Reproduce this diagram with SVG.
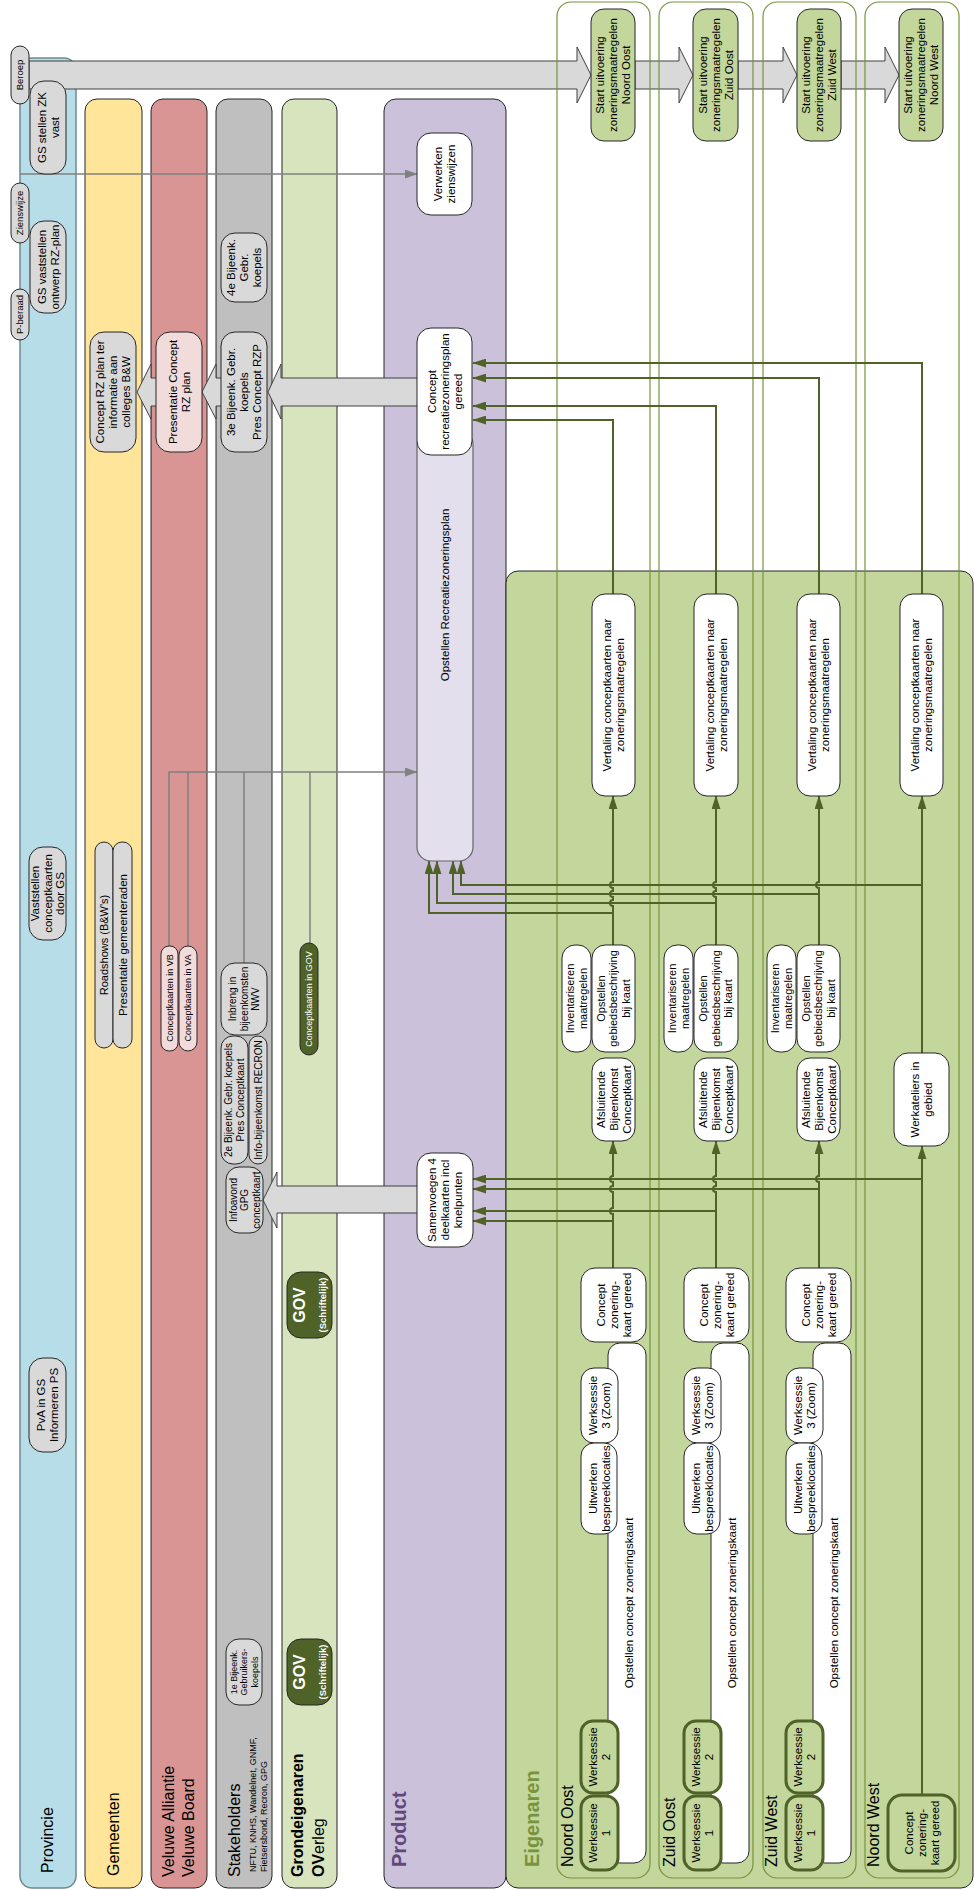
<svg xmlns="http://www.w3.org/2000/svg" width="974" height="1890" viewBox="0 0 974 1890">
<defs>
<style>
text{font-family:"Liberation Sans",Arial,sans-serif;fill:#000}
.t{font-size:11.5px;text-anchor:middle}
.t11{font-size:11px;text-anchor:middle}
.s{font-size:10px;text-anchor:middle}
.xs{font-size:9px;text-anchor:middle}
.p9{font-size:9.5px;text-anchor:middle}
.lab{font-size:16px}
.lane{stroke:#262626;stroke-width:1}
.reg{fill:none;stroke:#77933c;stroke-width:1.2}
.n{stroke:#262626;stroke-width:1}
.gr{fill:#d9d9d9}
.wh{fill:#fff}
.pk{fill:#f2dcdb}
.dk{fill:#4f6228}
.lg{fill:#c3d69b}
.tk{fill:#c3d69b;stroke:#4f6228;stroke-width:3}
.ba{fill:#d9d9d9;stroke:#404040;stroke-width:1}
.cg{fill:none;stroke:#808080;stroke-width:1.5}
.cn{fill:none;stroke:#4f6228;stroke-width:2}
.wt{fill:#fff}
</style>
<marker id="mg" viewBox="0 0 10 10" refX="9.5" refY="5" markerWidth="14" markerHeight="9" markerUnits="userSpaceOnUse" orient="auto" preserveAspectRatio="none"><path d="M0,0 L10,5 L0,10 z" fill="#4f6228"/></marker>
<marker id="my" viewBox="0 0 10 10" refX="9.5" refY="5" markerWidth="13" markerHeight="9" markerUnits="userSpaceOnUse" orient="auto" preserveAspectRatio="none"><path d="M0,0 L10,5 L0,10 z" fill="#808080"/></marker>
</defs>
<rect width="974" height="1890" fill="#fff"/>

<!-- lanes -->
<g id="lane-provincie"><rect x="20" y="58" width="56" height="1830" rx="12" fill="#b7dde8" style="stroke:#6f8a92;stroke-width:1.5"/></g>
<g id="lane-gemeenten"><rect class="lane" x="85" y="99" width="57" height="1789" rx="12" fill="#ffe599"/></g>
<g id="lane-veluwe"><rect class="lane" x="151" y="99" width="56" height="1789" rx="12" fill="#d99594"/></g>
<g id="lane-stakeholders"><rect class="lane" x="216" y="99" width="56" height="1789" rx="12" fill="#bfbfbf"/></g>
<g id="lane-grondeigenaren"><rect class="lane" x="282" y="99" width="55" height="1789" rx="12" fill="#d7e4bd"/></g>
<g id="lane-product"><rect class="lane" x="384" y="99" width="122" height="1789" rx="12" fill="#ccc1da"/></g>
<g id="lane-eigenaren"><rect class="lane" x="506" y="571" width="467" height="1317" rx="12" fill="#c3d69b"/></g>

<!-- block arrows -->
<g id="block-arrows">
<polygon class="ba" points="29,61 577,61 577,47 591,75 577,103 577,89 29,89"/>
<polygon class="ba" points="635,61 679,61 679,47 693,75 679,103 679,89 635,89"/>
<polygon class="ba" points="738,61 783,61 783,47 797,75 783,103 783,89 738,89"/>
<polygon class="ba" points="841,61 885,61 885,47 899,75 885,103 885,89 841,89"/>
<polygon class="ba" points="420,378 281,378 281,364 268,392 281,419 281,406 420,406"/>
<polygon class="ba" points="230,378 216,378 216,364 202,392 216,419 216,406 230,406"/>
<polygon class="ba" points="165,378 151,378 151,364 137,392 151,419 151,406 165,406"/>
<polygon class="ba" points="420,1186 277,1186 277,1172 263,1200 277,1228 277,1213 420,1213"/>
</g>

<!-- region outlines -->
<g id="regions">
<rect class="reg" x="557" y="2" width="93" height="1876" rx="14"/>
<rect class="reg" x="659" y="2" width="94" height="1876" rx="14"/>
<rect class="reg" x="763" y="2" width="93" height="1876" rx="14"/>
<rect class="reg" x="865" y="2" width="94" height="1876" rx="14"/>
</g>

<!-- connectors -->
<g id="connectors">
<path class="cg" d="M20,174 H417" marker-end="url(#my)"/>
<path class="cg" d="M169,946 V772 H417" marker-end="url(#my)"/>
<path class="cg" d="M188,946 V772"/>
<path class="cg" d="M244,963 V772"/>
<path class="cg" d="M310,943 V772"/>

<path class="cn" d="M613,594 V420 H473" marker-end="url(#mg)"/>
<path class="cn" d="M716,594 V406 H473" marker-end="url(#mg)"/>
<path class="cn" d="M819,594 V378 H473" marker-end="url(#mg)"/>
<path class="cn" d="M922,594 V363 H473" marker-end="url(#mg)"/>

<path class="cn" d="M613,945 V906 A3,3 0 0 1 613,900 V897 A3,3 0 0 1 613,891 V888 A3,3 0 0 1 613,882 V796" marker-end="url(#mg)"/>
<path class="cn" d="M716,945 V897 A3,3 0 0 1 716,891 V888 A3,3 0 0 1 716,882 V796" marker-end="url(#mg)"/>
<path class="cn" d="M819,945 V888 A3,3 0 0 1 819,882 V796" marker-end="url(#mg)"/>
<path class="cn" d="M922,1053 V796" marker-end="url(#mg)"/>
<path class="cn" d="M613,913 H429 V861" marker-end="url(#mg)"/>
<path class="cn" d="M716,903 H437 V861" marker-end="url(#mg)"/>
<path class="cn" d="M819,894 H453 V861" marker-end="url(#mg)"/>
<path class="cn" d="M922,885 H461 V861" marker-end="url(#mg)"/>

<path class="cn" d="M613,1268 V1214 A3,3 0 0 1 613,1208 V1192 A3,3 0 0 1 613,1186 V1182 A3,3 0 0 1 613,1176 V1141" marker-end="url(#mg)"/>
<path class="cn" d="M716,1268 V1192 A3,3 0 0 1 716,1186 V1182 A3,3 0 0 1 716,1176 V1141" marker-end="url(#mg)"/>
<path class="cn" d="M819,1268 V1182 A3,3 0 0 1 819,1176 V1141" marker-end="url(#mg)"/>
<path class="cn" d="M922,1795 V1146" marker-end="url(#mg)"/>
<path class="cn" d="M613,1221 H473" marker-end="url(#mg)"/>
<path class="cn" d="M716,1211 H473" marker-end="url(#mg)"/>
<path class="cn" d="M819,1189 H473" marker-end="url(#mg)"/>
<path class="cn" d="M922,1179 H473" marker-end="url(#mg)"/>
</g>

<!-- Provincie nodes -->
<g id="n-beroep"><rect class="n gr" x="11" y="46" width="18" height="58" rx="9"/><text class="p9" transform="translate(20,75) rotate(-90)" y="3.3">Beroep</text></g>
<g id="n-gs-zk"><rect class="n gr" x="30" y="81" width="36" height="93" rx="14"/><text class="t" transform="translate(48,127.5) rotate(-90)"><tspan x="0" y="-2.5">GS stellen ZK</tspan><tspan x="0" y="10.5">vast</tspan></text></g>
<g id="n-zienswijze"><rect class="n gr" x="11" y="183" width="18" height="60" rx="9"/><text class="p9" transform="translate(20,213) rotate(-90)" y="3.3">Zienswijze</text></g>
<g id="n-gs-ontwerp"><rect class="n gr" x="30" y="221" width="36" height="92" rx="14"/><text class="t" transform="translate(48,267) rotate(-90)"><tspan x="0" y="-2.5">GS vaststellen</tspan><tspan x="0" y="10.5">ontwerp RZ-plan</tspan></text></g>
<g id="n-pberaad"><rect class="n gr" x="11" y="289" width="18" height="51" rx="9"/><text class="p9" transform="translate(20,314.5) rotate(-90)" y="3.3">P-beraad</text></g>
<g id="n-vaststellen"><rect class="n gr" x="29" y="847" width="37" height="93" rx="14"/><text class="t" transform="translate(47.5,893.5) rotate(-90)"><tspan x="0" y="-8.5">Vaststellen</tspan><tspan x="0" y="4">conceptkaarten</tspan><tspan x="0" y="16.5">door GS</tspan></text></g>
<g id="n-pva"><rect class="n gr" x="29" y="1358" width="37" height="94" rx="14"/><text class="t" transform="translate(47.5,1405) rotate(-90)"><tspan x="0" y="-2.5">PvA in GS</tspan><tspan x="0" y="10.5">Informeren PS</tspan></text></g>

<!-- Gemeenten nodes -->
<g id="n-concept-rz-info"><rect class="n gr" x="90" y="332" width="46" height="120" rx="14"/><text class="t" transform="translate(113,392) rotate(-90)"><tspan x="0" y="-9">Concept RZ plan ter</tspan><tspan x="0" y="4">informatie aan</tspan><tspan x="0" y="17">colleges B&amp;W</tspan></text></g>
<g id="n-roadshows"><rect class="n gr" x="95" y="842" width="18" height="206" rx="9"/><text class="t11" transform="translate(104,945) rotate(-90)" y="3.8">Roadshows (B&amp;W's)</text></g>
<g id="n-pres-gemeenteraden"><rect class="n gr" x="113" y="842" width="19" height="206" rx="9"/><text class="t" transform="translate(122.5,945) rotate(-90)" y="4">Presentatie gemeenteraden</text></g>

<!-- Veluwe nodes -->
<g id="n-pres-concept-rz"><rect class="n pk" x="156" y="332" width="46" height="120" rx="14"/><text class="t" transform="translate(179,392) rotate(-90)"><tspan x="0" y="-2.5">Presentatie Concept</tspan><tspan x="0" y="10.5">RZ plan</tspan></text></g>
<g id="n-ck-vb"><rect class="n pk" x="161" y="946" width="17" height="105" rx="8"/><text class="xs" transform="translate(169.5,998) rotate(-90)" y="3.2">Conceptkaarten in VB</text></g>
<g id="n-ck-va"><rect class="n pk" x="179" y="946" width="18" height="105" rx="9"/><text class="xs" transform="translate(188,998) rotate(-90)" y="3.2">Conceptkaarten in VA</text></g>

<!-- Stakeholders nodes -->
<g id="n-4e"><rect class="n gr" x="221" y="233" width="46" height="69" rx="14"/><text class="t" transform="translate(244,267.5) rotate(-90)"><tspan x="0" y="-9">4e Bijeenk.</tspan><tspan x="0" y="4">Gebr.</tspan><tspan x="0" y="17">koepels</tspan></text></g>
<g id="n-3e"><rect class="n gr" x="221" y="332" width="46" height="120" rx="14"/><text class="t" transform="translate(244,392) rotate(-90)"><tspan x="0" y="-9">3e Bijeenk. Gebr.</tspan><tspan x="0" y="4">koepels</tspan><tspan x="0" y="17">Pres Concept RZP</tspan></text></g>
<g id="n-inbreng"><rect class="n gr" x="221" y="963" width="46" height="72" rx="14"/><text class="s" transform="translate(244,999) rotate(-90)"><tspan x="0" y="-8">Inbreng in</tspan><tspan x="0" y="3.5">bijeenkomsten</tspan><tspan x="0" y="15">NWV</tspan></text></g>
<g id="n-2e"><rect class="n gr" x="221" y="1036" width="27" height="128" rx="12"/><text class="s" transform="translate(234.5,1100) rotate(-90)"><tspan x="0" y="-2.3">2e Bijeenk. Gebr. koepels</tspan><tspan x="0" y="9.2">Pres Conceptkaart</tspan></text></g>
<g id="n-recron"><rect class="n gr" x="249" y="1036" width="18" height="128" rx="9"/><text class="s" transform="translate(258,1100) rotate(-90)" y="3.5">Info-bijeenkomst RECRON</text></g>
<g id="n-infoavond"><rect class="n gr" x="226" y="1167" width="37" height="66" rx="13"/><text class="s" transform="translate(244.5,1200) rotate(-90)"><tspan x="0" y="-8">Infoavond</tspan><tspan x="0" y="3.5">GPG</tspan><tspan x="0" y="15">conceptkaart</tspan></text></g>
<g id="n-1e"><rect class="n gr" x="226" y="1639" width="36" height="66" rx="13"/><text class="xs" transform="translate(244,1672) rotate(-90)"><tspan x="0" y="-7.3">1e Bijeenk.</tspan><tspan x="0" y="3.2">Gebruikers-</tspan><tspan x="0" y="13.7">koepels</tspan></text></g>

<!-- Grondeigenaren nodes -->
<g id="n-ck-gov"><rect class="n dk" x="300" y="943" width="18" height="112" rx="9"/><text class="xs wt" transform="translate(309,999) rotate(-90)" y="3.2">Conceptkaarten in GOV</text></g>
<g id="n-gov-2"><rect class="n dk" x="287" y="1272" width="45" height="66" rx="14"/><text class="wt" text-anchor="middle" font-size="16" font-weight="bold" transform="translate(305,1305) rotate(-90)">GOV</text><text class="wt" text-anchor="middle" font-size="9.5" font-weight="bold" transform="translate(326,1305) rotate(-90)">(Schriftelijk)</text></g>
<g id="n-gov-1"><rect class="n dk" x="287" y="1639" width="45" height="66" rx="14"/><text class="wt" text-anchor="middle" font-size="16" font-weight="bold" transform="translate(305,1672) rotate(-90)">GOV</text><text class="wt" text-anchor="middle" font-size="9.5" font-weight="bold" transform="translate(326,1672) rotate(-90)">(Schriftelijk)</text></g>

<!-- Product nodes -->
<g id="n-opstellen-rzp"><rect x="417" y="430" width="56" height="431" rx="14" fill="#e4dfec" stroke="#666" stroke-width="1.2"/><text class="t" transform="translate(445,595) rotate(-90)" y="4">Opstellen Recreatiezoneringsplan</text></g>
<g id="n-verwerken"><rect class="n wh" x="417" y="133" width="55" height="82" rx="14"/><text class="t" transform="translate(444.5,174) rotate(-90)"><tspan x="0" y="-2.5">Verwerken</tspan><tspan x="0" y="10.5">zienswijzen</tspan></text></g>
<g id="n-concept-rzp-gereed"><rect class="n wh" x="417" y="328" width="55" height="127" rx="14"/><text class="t" transform="translate(444.5,391.5) rotate(-90)"><tspan x="0" y="-9">Concept</tspan><tspan x="0" y="4">recreatiezoneringsplan</tspan><tspan x="0" y="17">gereed</tspan></text></g>
<g id="n-samenvoegen"><rect class="n wh" x="417" y="1153" width="56" height="94" rx="14"/><text class="t" transform="translate(445,1200) rotate(-90)"><tspan x="0" y="-9">Samenvoegen 4</tspan><tspan x="0" y="4">deelkaarten incl</tspan><tspan x="0" y="17">knelpunten</tspan></text></g>

<!-- Noord Oost -->
<g id="noord-oost">
<rect class="n lg" x="591" y="9" width="44" height="132" rx="13"/><text class="t" transform="translate(613,75) rotate(-90)"><tspan x="0" y="-9">Start uitvoering</tspan><tspan x="0" y="4">zoneringsmaatregelen</tspan><tspan x="0" y="17">Noord Oost</tspan></text>
<rect class="n wh" x="592" y="594" width="43" height="202" rx="13"/><text class="t" transform="translate(613.5,695) rotate(-90)"><tspan x="0" y="-2.5">Vertaling conceptkaarten naar</tspan><tspan x="0" y="10.5">zoneringsmaatregelen</tspan></text>
<rect class="n wh" x="562" y="945" width="29" height="107" rx="13"/><text class="t11" transform="translate(576.5,998.5) rotate(-90)"><tspan x="0" y="-2.4">Inventariseren</tspan><tspan x="0" y="10.1">maatregelen</tspan></text>
<rect class="n wh" x="592" y="945" width="43" height="107" rx="13"/><text class="t11" transform="translate(613.5,998.5) rotate(-90)"><tspan x="0" y="-8.7">Opstellen</tspan><tspan x="0" y="3.8">gebiedsbeschrijving</tspan><tspan x="0" y="16.3">bij kaart</tspan></text>
<rect class="n wh" x="592" y="1058" width="43" height="83" rx="13"/><text class="t" transform="translate(613.5,1099.5) rotate(-90)"><tspan x="0" y="-9">Afsluitende</tspan><tspan x="0" y="4">Bijeenkomst</tspan><tspan x="0" y="17">Conceptkaart</tspan></text>
<rect class="n wh" x="581" y="1268" width="65" height="74" rx="14"/><text class="t" transform="translate(613.5,1305) rotate(-90)"><tspan x="0" y="-9">Concept</tspan><tspan x="0" y="4">zonering-</tspan><tspan x="0" y="17">kaart gereed</tspan></text>
<rect class="n wh" x="608" y="1343" width="38" height="520" rx="12"/><text class="t" transform="translate(629,1603) rotate(-90)" y="4">Opstellen concept zoneringskaart</text>
<rect class="n wh" x="581" y="1368" width="37" height="75" rx="13"/><text class="t" transform="translate(599.5,1405.5) rotate(-90)"><tspan x="0" y="-2.5">Werksessie</tspan><tspan x="0" y="10.5">3 (Zoom)</tspan></text>
<rect class="n wh" x="581" y="1443" width="36" height="91" rx="13"/><text class="t" transform="translate(599,1488.5) rotate(-90)"><tspan x="0" y="-2.5">Uitwerken</tspan><tspan x="0" y="10.5">bespreeklocaties</tspan></text>
<rect class="tk" x="581" y="1721" width="37" height="72" rx="12"/><text class="t" transform="translate(599.5,1757) rotate(-90)"><tspan x="0" y="-2.5">Werksessie</tspan><tspan x="0" y="10.5">2</tspan></text>
<rect class="tk" x="581" y="1796" width="37" height="74" rx="12"/><text class="t" transform="translate(599.5,1833) rotate(-90)"><tspan x="0" y="-2.5">Werksessie</tspan><tspan x="0" y="10.5">1</tspan></text>
</g>

<!-- Zuid Oost -->
<g id="zuid-oost" transform="translate(103,0)">
<rect class="n lg" x="590" y="9" width="45" height="132" rx="13"/><text class="t" transform="translate(612.5,75) rotate(-90)"><tspan x="0" y="-9">Start uitvoering</tspan><tspan x="0" y="4">zoneringsmaatregelen</tspan><tspan x="0" y="17">Zuid Oost</tspan></text>
<rect class="n wh" x="591" y="594" width="44" height="202" rx="13"/><text class="t" transform="translate(613,695) rotate(-90)"><tspan x="0" y="-2.5">Vertaling conceptkaarten naar</tspan><tspan x="0" y="10.5">zoneringsmaatregelen</tspan></text>
<rect class="n wh" x="561" y="945" width="29" height="107" rx="13"/><text class="t11" transform="translate(575.5,998.5) rotate(-90)"><tspan x="0" y="-2.4">Inventariseren</tspan><tspan x="0" y="10.1">maatregelen</tspan></text>
<rect class="n wh" x="591" y="945" width="44" height="107" rx="13"/><text class="t11" transform="translate(613,998.5) rotate(-90)"><tspan x="0" y="-8.7">Opstellen</tspan><tspan x="0" y="3.8">gebiedsbeschrijving</tspan><tspan x="0" y="16.3">bij kaart</tspan></text>
<rect class="n wh" x="591" y="1058" width="44" height="83" rx="13"/><text class="t" transform="translate(613,1099.5) rotate(-90)"><tspan x="0" y="-9">Afsluitende</tspan><tspan x="0" y="4">Bijeenkomst</tspan><tspan x="0" y="17">Conceptkaart</tspan></text>
<rect class="n wh" x="581" y="1268" width="65" height="74" rx="14"/><text class="t" transform="translate(613.5,1305) rotate(-90)"><tspan x="0" y="-9">Concept</tspan><tspan x="0" y="4">zonering-</tspan><tspan x="0" y="17">kaart gereed</tspan></text>
<rect class="n wh" x="608" y="1343" width="38" height="520" rx="12"/><text class="t" transform="translate(629,1603) rotate(-90)" y="4">Opstellen concept zoneringskaart</text>
<rect class="n wh" x="581" y="1368" width="37" height="75" rx="13"/><text class="t" transform="translate(599.5,1405.5) rotate(-90)"><tspan x="0" y="-2.5">Werksessie</tspan><tspan x="0" y="10.5">3 (Zoom)</tspan></text>
<rect class="n wh" x="581" y="1443" width="36" height="91" rx="13"/><text class="t" transform="translate(599,1488.5) rotate(-90)"><tspan x="0" y="-2.5">Uitwerken</tspan><tspan x="0" y="10.5">bespreeklocaties</tspan></text>
<rect class="tk" x="581" y="1721" width="37" height="72" rx="12"/><text class="t" transform="translate(599.5,1757) rotate(-90)"><tspan x="0" y="-2.5">Werksessie</tspan><tspan x="0" y="10.5">2</tspan></text>
<rect class="tk" x="581" y="1796" width="37" height="74" rx="12"/><text class="t" transform="translate(599.5,1833) rotate(-90)"><tspan x="0" y="-2.5">Werksessie</tspan><tspan x="0" y="10.5">1</tspan></text>
</g>

<!-- Zuid West -->
<g id="zuid-west" transform="translate(206,0)">
<rect class="n lg" x="591" y="9" width="44" height="132" rx="13"/><text class="t" transform="translate(613,75) rotate(-90)"><tspan x="0" y="-9">Start uitvoering</tspan><tspan x="0" y="4">zoneringsmaatregelen</tspan><tspan x="0" y="17">Zuid West</tspan></text>
<rect class="n wh" x="591" y="594" width="43" height="202" rx="13"/><text class="t" transform="translate(612.5,695) rotate(-90)"><tspan x="0" y="-2.5">Vertaling conceptkaarten naar</tspan><tspan x="0" y="10.5">zoneringsmaatregelen</tspan></text>
<rect class="n wh" x="561" y="945" width="29" height="107" rx="13"/><text class="t11" transform="translate(575.5,998.5) rotate(-90)"><tspan x="0" y="-2.4">Inventariseren</tspan><tspan x="0" y="10.1">maatregelen</tspan></text>
<rect class="n wh" x="591" y="945" width="43" height="107" rx="13"/><text class="t11" transform="translate(612.5,998.5) rotate(-90)"><tspan x="0" y="-8.7">Opstellen</tspan><tspan x="0" y="3.8">gebiedsbeschrijving</tspan><tspan x="0" y="16.3">bij kaart</tspan></text>
<rect class="n wh" x="591" y="1058" width="43" height="83" rx="13"/><text class="t" transform="translate(612.5,1099.5) rotate(-90)"><tspan x="0" y="-9">Afsluitende</tspan><tspan x="0" y="4">Bijeenkomst</tspan><tspan x="0" y="17">Conceptkaart</tspan></text>
<rect class="n wh" x="580" y="1268" width="65" height="74" rx="14"/><text class="t" transform="translate(612.5,1305) rotate(-90)"><tspan x="0" y="-9">Concept</tspan><tspan x="0" y="4">zonering-</tspan><tspan x="0" y="17">kaart gereed</tspan></text>
<rect class="n wh" x="607" y="1343" width="38" height="520" rx="12"/><text class="t" transform="translate(628,1603) rotate(-90)" y="4">Opstellen concept zoneringskaart</text>
<rect class="n wh" x="580" y="1368" width="37" height="75" rx="13"/><text class="t" transform="translate(598.5,1405.5) rotate(-90)"><tspan x="0" y="-2.5">Werksessie</tspan><tspan x="0" y="10.5">3 (Zoom)</tspan></text>
<rect class="n wh" x="580" y="1443" width="36" height="91" rx="13"/><text class="t" transform="translate(598,1488.5) rotate(-90)"><tspan x="0" y="-2.5">Uitwerken</tspan><tspan x="0" y="10.5">bespreeklocaties</tspan></text>
<rect class="tk" x="580" y="1721" width="37" height="72" rx="12"/><text class="t" transform="translate(598.5,1757) rotate(-90)"><tspan x="0" y="-2.5">Werksessie</tspan><tspan x="0" y="10.5">2</tspan></text>
<rect class="tk" x="580" y="1796" width="37" height="74" rx="12"/><text class="t" transform="translate(598.5,1833) rotate(-90)"><tspan x="0" y="-2.5">Werksessie</tspan><tspan x="0" y="10.5">1</tspan></text>
</g>

<!-- Noord West -->
<g id="noord-west">
<rect class="n lg" x="899" y="9" width="44" height="132" rx="13"/><text class="t" transform="translate(921,75) rotate(-90)"><tspan x="0" y="-9">Start uitvoering</tspan><tspan x="0" y="4">zoneringsmaatregelen</tspan><tspan x="0" y="17">Noord West</tspan></text>
<rect class="n wh" x="900" y="594" width="43" height="202" rx="13"/><text class="t" transform="translate(921.5,695) rotate(-90)"><tspan x="0" y="-2.5">Vertaling conceptkaarten naar</tspan><tspan x="0" y="10.5">zoneringsmaatregelen</tspan></text>
<rect class="n wh" x="894" y="1053" width="55" height="93" rx="14"/><text class="t" transform="translate(921.5,1099.5) rotate(-90)"><tspan x="0" y="-2.5">Werkateliers in</tspan><tspan x="0" y="10.5">gebied</tspan></text>
<rect class="tk" x="888" y="1795" width="67" height="76" rx="14"/><text class="t" transform="translate(921.5,1833) rotate(-90)"><tspan x="0" y="-9">Concept</tspan><tspan x="0" y="4">zonering-</tspan><tspan x="0" y="17">kaart gereed</tspan></text>
</g>

<!-- lane labels -->
<g id="labels">
<text class="lab" transform="translate(53,1873) rotate(-90)">Provincie</text>
<text class="lab" transform="translate(119,1876) rotate(-90)">Gemeenten</text>
<text class="lab" transform="translate(174,1877) rotate(-90)">Veluwe Alliantie</text>
<text class="lab" transform="translate(194,1877) rotate(-90)">Veluwe Board</text>
<text class="lab" transform="translate(240,1877) rotate(-90)">Stakeholders</text>
<text font-size="9" transform="translate(256,1872) rotate(-90)">NFTU, KNHS, Wandelnet, GNMF,</text>
<text font-size="9" transform="translate(267,1872) rotate(-90)">Fietsersbond, Recron, GPG</text>
<text class="lab" font-weight="bold" transform="translate(303,1877) rotate(-90)">Grondeigenaren</text>
<text class="lab" transform="translate(324,1877) rotate(-90)"><tspan font-weight="bold">OV</tspan>erleg</text>
<text font-size="20" font-weight="bold" style="fill:#5f497a" transform="translate(406,1867) rotate(-90)">Product</text>
<text font-size="20" font-weight="bold" style="fill:#77933c" transform="translate(539,1867) rotate(-90)">Eigenaren</text>
<text class="lab" transform="translate(573,1867) rotate(-90)">Noord Oost</text>
<text class="lab" transform="translate(675,1867) rotate(-90)">Zuid Oost</text>
<text class="lab" transform="translate(777,1867) rotate(-90)">Zuid West</text>
<text class="lab" transform="translate(879,1867) rotate(-90)">Noord West</text>
</g>
</svg>
